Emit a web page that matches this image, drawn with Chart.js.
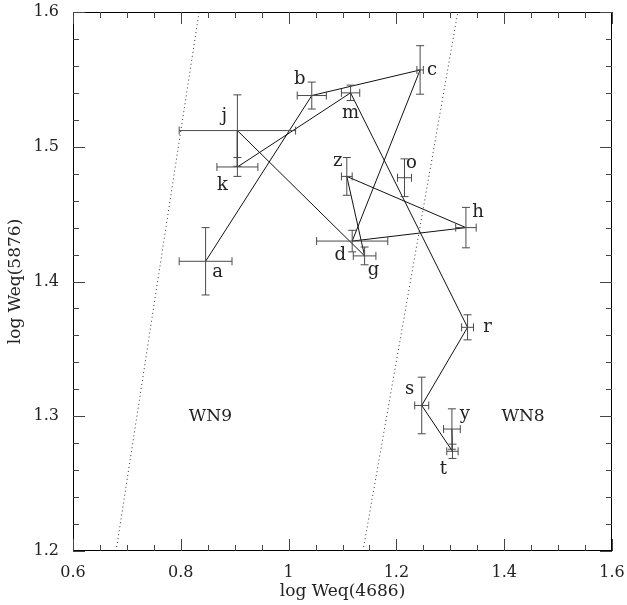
<!DOCTYPE html>
<html>
<head>
<meta charset="utf-8">
<script src="https://cdn.jsdelivr.net/npm/chart.js@4"></script>
<style>
  html, body { margin: 0; padding: 0; background: #fff; }
  #wrap { width: 627px; height: 605px; }
</style>
</head>
<body>
<div id="wrap"><canvas id="myChart"></canvas></div>
<script>
    // star measurements
    var names = ['a', 'b', 'c', 'd', 'g', 'h', 'j', 'k', 'm', 'o', 'r', 's', 't', 'y', 'z'];
    var xValues = [0.846, 1.043, 1.244, 1.118, 1.141, 1.329, 0.905, 0.905, 1.115, 1.215, 1.332, 1.247, 1.304, 1.303, 1.108];
    var yValues = [1.415, 1.538, 1.557, 1.430, 1.419, 1.440, 1.512, 1.485, 1.540, 1.477, 1.366, 1.308, 1.274, 1.2905, 1.478];
    var xErrors = [0.049, 0.027, 0.006, 0.066, 0.021, 0.019, 0.108, 0.038, 0.017, 0.013, 0.011, 0.013, 0.0105, 0.0155, 0.010];
    var yErrors = [0.025, 0.010, 0.018, 0.008, 0.0066, 0.015, 0.0265, 0.007, 0.0057, 0.014, 0.0093, 0.021, 0.0053, 0.015, 0.014];
    // order in which the points are joined
    var pathOrder = ['a', 'b', 'c', 'd', 'h', 'z', 'g', 'j', 'k', 'm', 'r', 's', 't', 'y'];

    // WN9 / WN8 boundaries
    var leftBoundX = [0.680, 0.834];
    var rightBoundX = [1.138, 1.314];
    var boundY = [1.2, 1.6];

    var xTicks = [0.6, 0.8, 1.0, 1.2, 1.4, 1.6];
    var yTicks = [1.2, 1.3, 1.4, 1.5, 1.6];

    // label offsets in pixels
    var labelOffset = {
        a: [12, 11], b: [-12, -16], c: [12, 0], d: [-12, 14], g: [9, 14],
        h: [12, -15], j: [-13, -14], k: [-15, 18], m: [0, 20], o: [7, -14],
        r: [20, 0], s: [-12, -16], t: [-9, 18], y: [13, -15], z: [-9, -15]
    };

    var serif = "'DejaVu Serif', 'Liberation Serif', serif";

    var pathData = pathOrder.map(function (n) {
        var i = names.indexOf(n);
        return { x: xValues[i], y: yValues[i] };
    });
    var pointData = names.map(function (n, i) { return { x: xValues[i], y: yValues[i] }; });

    var extras = {
        id: 'extras',
        afterDatasetsDraw: function (chart) {
            var c = chart.ctx, xs = chart.scales.x, ys = chart.scales.y, a = chart.chartArea;
            c.save();
            // error bars
            c.strokeStyle = '#4a4a4a';
            c.lineWidth = 1;
            var cap = 4;
            for (var i = 0; i < names.length; i++) {
                var px = xs.getPixelForValue(xValues[i]);
                var py = ys.getPixelForValue(yValues[i]);
                var x1 = xs.getPixelForValue(xValues[i] - xErrors[i]);
                var x2 = xs.getPixelForValue(xValues[i] + xErrors[i]);
                var y1 = ys.getPixelForValue(yValues[i] - yErrors[i]);
                var y2 = ys.getPixelForValue(yValues[i] + yErrors[i]);
                c.beginPath();
                c.moveTo(x1, py); c.lineTo(x2, py);
                c.moveTo(x1, py - cap); c.lineTo(x1, py + cap);
                c.moveTo(x2, py - cap); c.lineTo(x2, py + cap);
                c.moveTo(px, y1); c.lineTo(px, y2);
                c.moveTo(px - cap, y1); c.lineTo(px + cap, y1);
                c.moveTo(px - cap, y2); c.lineTo(px + cap, y2);
                c.stroke();
            }
            // point labels
            c.fillStyle = '#222';
            c.font = '18px ' + serif;
            c.textAlign = 'center';
            c.textBaseline = 'middle';
            for (var i = 0; i < names.length; i++) {
                var off = labelOffset[names[i]];
                c.fillText(names[i], xs.getPixelForValue(xValues[i]) + off[0], ys.getPixelForValue(yValues[i]) + off[1]);
            }
            c.font = '17px ' + serif;
            c.fillText('WN9', xs.getPixelForValue(0.855), ys.getPixelForValue(1.3));
            c.fillText('WN8', xs.getPixelForValue(1.435), ys.getPixelForValue(1.3));

            // frame and inward ticks
            c.strokeStyle = '#000';
            c.lineWidth = 1;
            c.strokeRect(a.left + 0.5, a.top + 0.5, a.right - a.left - 1, a.bottom - a.top - 1);
            c.strokeStyle = '#444';
            c.beginPath();
            for (var k = 0; k <= 20; k++) {
                var v = 0.6 + k * 0.05;
                var p = Math.round(xs.getPixelForValue(v)) + 0.5;
                var len = (k % 4 === 0) ? 12 : 6;
                c.moveTo(p, a.bottom); c.lineTo(p, a.bottom - len);
                c.moveTo(p, a.top); c.lineTo(p, a.top + len);
            }
            for (var k = 0; k <= 20; k++) {
                var v = 1.2 + k * 0.02;
                var p = Math.round(ys.getPixelForValue(v)) + 0.5;
                var len = (k % 5 === 0) ? 12 : 6;
                c.moveTo(a.left, p); c.lineTo(a.left + len, p);
                c.moveTo(a.right, p); c.lineTo(a.right - len, p);
            }
            c.stroke();
            c.restore();
        }
    };

    var ctx = document.getElementById('myChart');
    new Chart(ctx, {
        type: 'scatter',
        data: {
            datasets: [
                {
                    data: pathData,
                    showLine: true,
                    borderColor: '#111',
                    borderWidth: 1,
                    pointRadius: 0
                },
                {
                    data: pointData,
                    showLine: false,
                    pointRadius: 0
                },
                {
                    data: [{ x: leftBoundX[0], y: boundY[0] }, { x: leftBoundX[1], y: boundY[1] }],
                    showLine: true,
                    borderColor: '#333',
                    borderWidth: 1,
                    borderDash: [1, 3],
                    pointRadius: 0
                },
                {
                    data: [{ x: rightBoundX[0], y: boundY[0] }, { x: rightBoundX[1], y: boundY[1] }],
                    showLine: true,
                    borderColor: '#333',
                    borderWidth: 1,
                    borderDash: [1, 3],
                    pointRadius: 0
                }
            ]
        },
        options: {
            responsive: true,
            maintainAspectRatio: false,
            animation: false,
            layout: { padding: { top: 12, right: 15, left: 0, bottom: 0 } },
            plugins: {
                legend: { display: false },
                tooltip: { enabled: false }
            },
            scales: {
                x: {
                    type: 'linear',
                    min: 0.6, max: 1.6,
                    afterBuildTicks: function (s) { s.ticks = xTicks.map(function (v) { return { value: v }; }); },
                    afterFit: function (s) {
                        s.height = 54;
                        s.paddingLeft = 0; s.paddingRight = 0;
                    },
                    grid: { display: false, drawTicks: false },
                    border: { display: false },
                    ticks: {
                        padding: 12,
                        color: '#222',
                        font: { family: serif, size: 16 },
                        callback: function (v) { return String(Math.round(v * 10) / 10); }
                    },
                    title: {
                        display: true,
                        text: 'log Weq(4686)',
                        color: '#222',
                        font: { family: serif, size: 17 },
                        padding: { top: 2, bottom: 3 }
                    }
                },
                y: {
                    type: 'linear',
                    min: 1.2, max: 1.6,
                    afterBuildTicks: function (s) { s.ticks = yTicks.map(function (v) { return { value: v }; }); },
                    afterFit: function (s) {
                        s.width = 73;
                        s.paddingTop = 0; s.paddingBottom = 0;
                    },
                    grid: { display: false, drawTicks: false },
                    border: { display: false },
                    ticks: {
                        padding: 14,
                        color: '#222',
                        font: { family: serif, size: 16 },
                        callback: function (v) { return String(Math.round(v * 10) / 10); }
                    },
                    title: {
                        display: true,
                        text: 'log Weq(5876)',
                        color: '#222',
                        font: { family: serif, size: 17 },
                        padding: { top: 5, bottom: 0 }
                    }
                }
            }
        },
        plugins: [extras]
    });
</script>
</body>
</html>
